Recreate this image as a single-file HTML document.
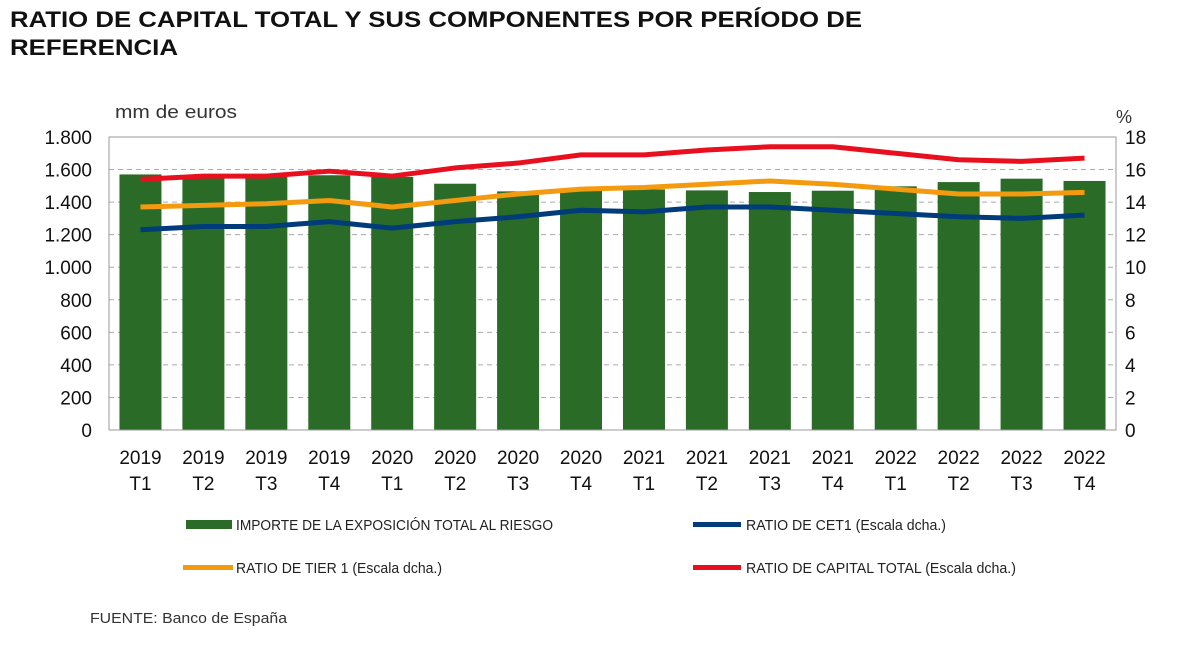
<!DOCTYPE html>
<html><head><meta charset="utf-8"><style>
body{margin:0;background:#fff;width:1178px;height:642px;overflow:hidden;font-family:"Liberation Sans",sans-serif}
svg text{font-family:"Liberation Sans",sans-serif}
.leg{font-family:"Liberation Sans Narrow","Liberation Sans",sans-serif;font-size:15px;fill:#222}
</style></head><body>
<svg width="1178" height="642">
<text x="10" y="27" font-size="22" font-weight="bold" fill="#111" textLength="852" lengthAdjust="spacingAndGlyphs">RATIO DE CAPITAL TOTAL Y SUS COMPONENTES POR PERÍODO DE</text>
<text x="10" y="55" font-size="22" font-weight="bold" fill="#111" textLength="168" lengthAdjust="spacingAndGlyphs">REFERENCIA</text>
<text x="115" y="118" font-size="18" fill="#333" textLength="122" lengthAdjust="spacingAndGlyphs">mm de euros</text>
<text x="1116" y="123" font-size="18" fill="#333">%</text>
<g id="grid"></g><g id="bars"></g><g id="lines"></g><g id="axes"></g>
<g>
<rect x="186" y="520" width="46" height="9" fill="#2a6b27"/>
<text class="leg" x="236" y="530" textLength="317" lengthAdjust="spacingAndGlyphs">IMPORTE DE LA EXPOSICIÓN TOTAL AL RIESGO</text>
<rect x="693" y="522" width="48" height="5" fill="#003b7a"/>
<text class="leg" x="746" y="530" textLength="200" lengthAdjust="spacingAndGlyphs">RATIO DE CET1 (Escala dcha.)</text>
<rect x="183" y="565" width="50" height="5" fill="#f39a0e"/>
<text class="leg" x="236" y="573" textLength="206" lengthAdjust="spacingAndGlyphs">RATIO DE TIER 1 (Escala dcha.)</text>
<rect x="693" y="565" width="48" height="5" fill="#e8101e"/>
<text class="leg" x="746" y="573" textLength="270" lengthAdjust="spacingAndGlyphs">RATIO DE CAPITAL TOTAL (Escala dcha.)</text>
</g>
<text x="90" y="623" font-size="15" fill="#333" textLength="197" lengthAdjust="spacingAndGlyphs">FUENTE: Banco de España</text>
</svg>
<script>
const years=["2019","2019","2019","2019","2020","2020","2020","2020","2021","2021","2021","2021","2022","2022","2022","2022"];
const quarters=["T1","T2","T3","T4","T1","T2","T3","T4","T1","T2","T3","T4","T1","T2","T3","T4"];
const exposure=[1570,1555,1555,1565,1555,1513,1466,1472,1478,1472,1462,1470,1497,1523,1544,1530];
const cet1=[12.3,12.5,12.5,12.8,12.4,12.8,13.1,13.5,13.4,13.7,13.7,13.5,13.3,13.1,13.0,13.2];
const tier1=[13.7,13.8,13.9,14.1,13.7,14.1,14.5,14.8,14.9,15.1,15.3,15.1,14.8,14.5,14.5,14.6];
const total=[15.4,15.6,15.6,15.9,15.6,16.1,16.4,16.9,16.9,17.2,17.4,17.4,17.0,16.6,16.5,16.7];
const leftTicks=["0","200","400","600","800","1.000","1.200","1.400","1.600","1.800"];
const rightTicks=["0","2","4","6","8","10","12","14","16","18"];
const NS="http://www.w3.org/2000/svg";
const X0=109,X1=1116,Y0=430,Y1=137;
const step=(X1-X0)/years.length;
const xc=i=>X0+step*(i+0.5);
const yL=v=>Y0-(v/1800)*(Y0-Y1);
const yR=v=>Y0-(v/18)*(Y0-Y1);
function mk(tag,attrs,parent){const e=document.createElementNS(NS,tag);for(const k in attrs)e.setAttribute(k,attrs[k]);document.getElementById(parent).appendChild(e);return e;}
leftTicks.forEach((t,i)=>{
 const y=Y0-i*(Y0-Y1)/9;
 if(i>0){const g=mk('line',{x1:X0,x2:X1,y1:y,y2:y,stroke:'#aaa','stroke-dasharray':'5,4','stroke-width':1},'grid');
 
 }
 const a=mk('text',{x:X0-17,y:y+7,'text-anchor':'end','font-size':19,fill:'#111'},'axes');a.textContent=t;
 
 
 const b=mk('text',{x:1125,y:y+7,'font-size':19,fill:'#111'},'axes');b.textContent=rightTicks[i];
 
 
});
const fr=mk('rect',{x:X0,y:Y1,width:X1-X0,height:Y0-Y1,fill:'none',stroke:'#999','stroke-width':1},'axes');


exposure.forEach((v,i)=>{
 const r=mk('rect',{x:xc(i)-21,y:yL(v),width:42,height:Y0-yL(v),fill:'#2a6b27'},'bars');
 
 
 const t1=mk('text',{x:xc(i),y:464,'text-anchor':'middle','font-size':19,fill:'#111'},'axes');t1.textContent=years[i];
 
 
 const t2=mk('text',{x:xc(i),y:490,'text-anchor':'middle','font-size':19,fill:'#111'},'axes');t2.textContent=quarters[i];
 
 
});
[[cet1,'#003b7a','line-cet1'],[tier1,'#f39a0e','line-tier1'],[total,'#e8101e','line-total']].forEach(([s,c,n])=>{
 const p=mk('polyline',{points:s.map((v,i)=>xc(i)+','+yR(v)).join(' '),fill:'none',stroke:c,'stroke-width':5,'stroke-linejoin':'round'},'lines');
 
 
});
</script>
</body></html>
